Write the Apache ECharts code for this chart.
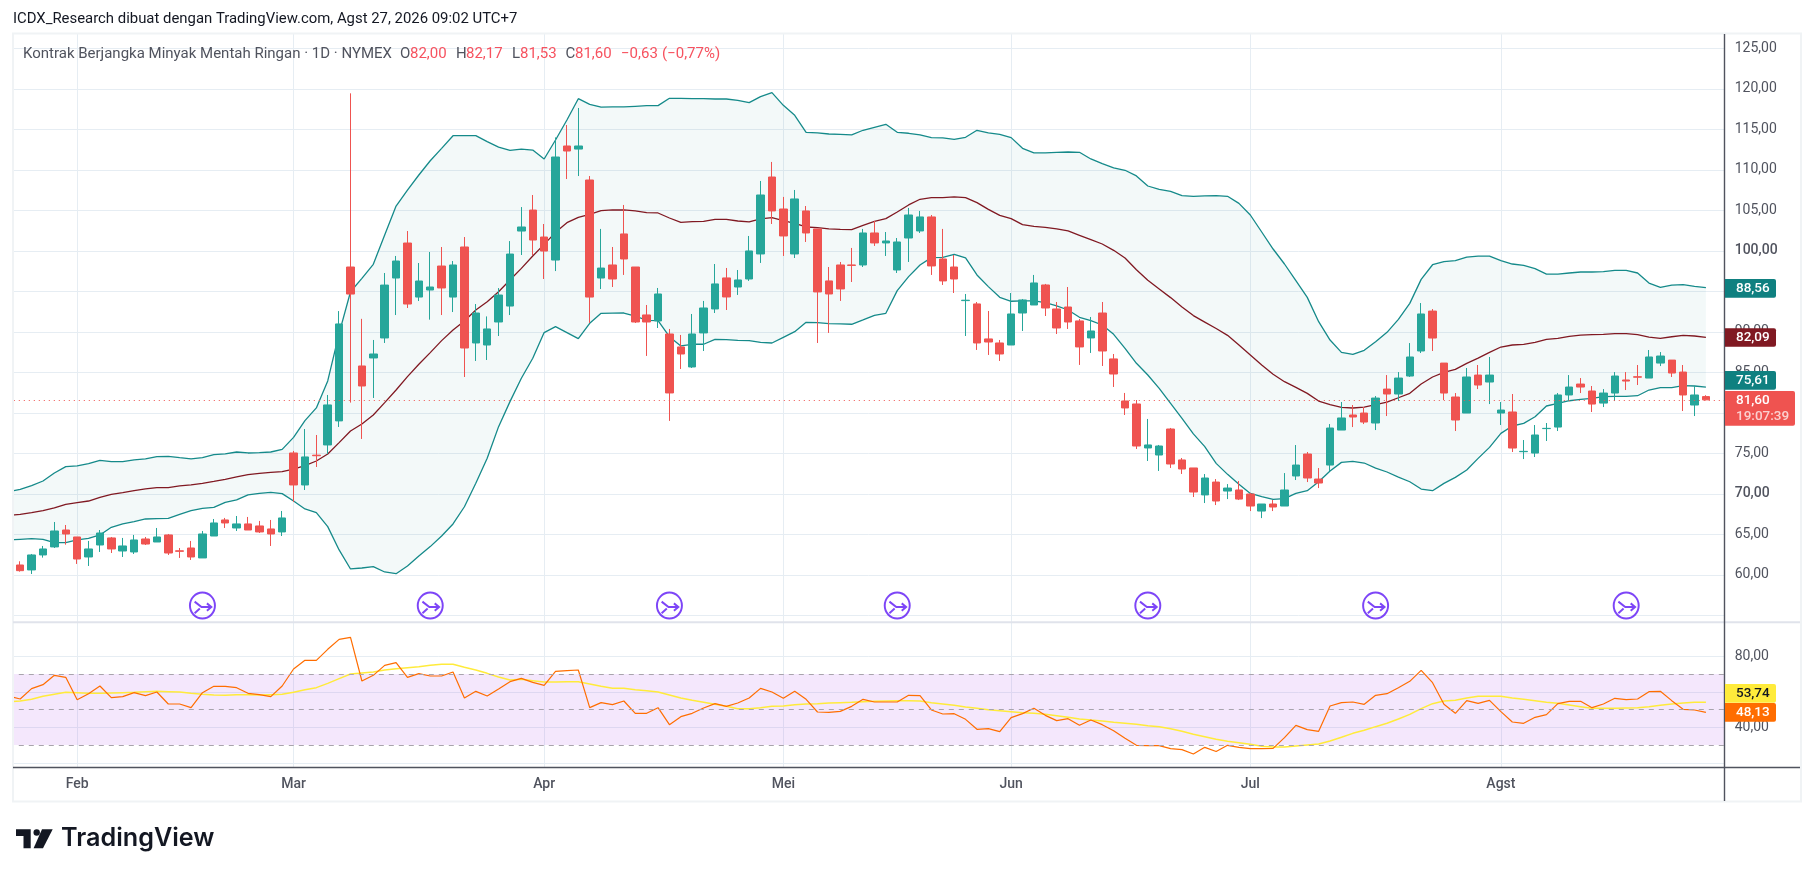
<!DOCTYPE html>
<html><head><meta charset="utf-8"><style>html,body{margin:0;padding:0;background:#fff}#c{width:1814px;height:877px}</style>
<script src="https://cdn.jsdelivr.net/npm/echarts@6/dist/echarts.min.js"></script></head>
<body><div id="c"></div><script>
const opens=[61.21,60.6,62.45,63.44,65.53,64.67,62.2,63.68,64.55,62.94,62.82,64.42,64.05,64.92,62.96,63.31,62.08,64.79,66.77,65.78,66.28,66.03,65.66,65.29,75.04,71.09,74.77,76.03,79,98,85.78,86.77,89.24,96.64,100.96,94.29,95.16,98.12,94.29,100.47,88.62,88.37,91.21,93.18,102.44,105.03,101.7,98.86,112.94,112.56,108.74,96.64,98.25,102.08,98,92.08,91.34,89.73,88.13,85.66,89.86,92.82,96.65,95.53,96.52,99.61,109.11,105.16,99.61,104.92,102.7,96.28,98.25,98.25,98.25,102.2,100.97,97.63,101.58,102.45,104.18,98.99,98,93.85,93.44,89.12,88.62,88.37,92.32,93.31,95.78,92.82,93.06,91.34,89.24,92.32,86.65,81.46,81.09,75.66,74.79,78,74.18,73.19,69.86,71.45,70.34,70.47,69.97,67.87,68.74,68.49,72.2,74.91,71.82,73.55,77.87,79.73,79.97,78.74,82.93,82.32,84.54,87.63,92.56,86.14,81.95,79.97,84.66,83.8,79.97,80.1,75.2,75.03,78.05,78.24,82.2,83.55,82.69,81.2,82.44,84.05,84.45,84.29,86.14,86.51,85.03,80.96,82];
const closes=[60.51,62.45,63.19,65.41,65.04,61.95,63.19,65.16,63.19,63.56,64.3,63.8,64.67,62.69,62.9,62.2,65.04,66.4,66.4,66.28,65.53,65.29,65.04,67.02,71.09,74.55,74.7,80.97,90.97,94.66,83.31,87.26,95.77,98.74,93.43,96.27,95.53,95.41,98.25,88,92.32,90.35,94.54,99.6,102.94,101.33,99.97,111.58,112.32,112.94,94.29,97.87,96.52,98.99,91.21,91.21,94.67,82.45,87.26,89.73,92.94,95.91,94.3,96.4,99.98,106.89,104.92,101.83,106.4,102.2,94.92,94.67,95.29,98.2,102.2,100.97,101.21,101.09,104.42,104.18,98.13,96.28,96.52,93.9,88.62,88.74,87.26,92.2,93.93,96.03,92.94,90.47,91.21,88.13,90.1,87.63,84.79,80.6,75.9,76.03,75.9,73.68,73.06,70.22,71.95,69.11,70.71,69.35,68.49,68.74,68.37,70.47,73.55,71.95,71.33,78.12,79.36,79.48,78.86,81.82,82.32,84.29,86.89,92.2,89.23,82.44,79.11,84.42,83.43,84.66,80.34,75.65,75.24,77.26,78.08,82.2,83.18,83.18,81.08,82.44,84.54,83.92,84.4,86.89,87.01,84.91,82.2,82.2,81.6];
const highs=[61.67,62.57,63.56,66.52,66.15,64.67,64.18,65.53,64.67,64.55,64.92,64.67,65.78,65.04,63.31,64.18,65.41,66.89,67.02,67.26,67.14,66.65,66.77,67.88,75.29,78,77.26,82.2,92.56,119.44,91.6,88.99,97.26,99.36,102.44,98.49,99.85,100.47,98.74,101.7,93.43,91.9,95.4,101.2,105.4,106.89,103.31,114,115.53,117.63,109.23,102.7,100.47,105.66,98,93.31,95.41,90.35,89.61,92.2,93.81,98.37,97.88,97.63,101.83,108.62,110.97,106.65,107.51,105.53,102.7,98,98.62,100.35,102.7,103.68,102.32,101.58,105.29,104.92,104.42,102.7,99.48,94.67,93.68,92.57,88.99,94.79,94.05,97.02,95.91,93.68,95.53,91.58,91.83,93.68,87.26,82.45,81.58,79.24,76.03,78.13,74.42,73.19,72.44,71.82,71.2,71.58,70.1,68.74,69.23,72.56,76.02,75.16,73.18,78.61,81.33,80.96,80.71,82.07,84.66,85.03,88.61,93.55,92.81,86.14,82.44,85.53,85.9,86.89,81.33,82.32,76.64,78.49,78.74,82.44,84.66,84.29,83.31,82.93,85.03,85.03,85.9,87.75,87.5,86.51,85.9,83.31,82.17];
const lows=[60.39,60.1,62.12,63.31,63.72,61.34,61.09,62.82,62.69,62.2,62.57,63.68,64.05,62.45,62.08,61.83,62.08,64.79,65.78,65.41,65.53,65.16,63.56,64.79,69,70.47,73.31,74.92,78.25,81.26,76.77,81.83,88.62,92.07,92.94,93.8,91.5,92.07,92.44,84.42,86.4,86.52,89.48,92.07,99.48,99.48,96.52,97.5,108.86,109.23,91.1,95.28,95.53,97.02,91.09,87.02,90.47,79,85.41,85.53,87.63,92.32,92.69,94.55,96.28,98.5,103.31,99.36,99.11,101.09,88.62,89.86,93.81,96.15,98,100.6,99.36,97.26,98.62,102.2,97.02,95.78,94.79,89.48,87.76,87.14,86.4,88.37,90.1,93.31,91.95,89.73,90.35,85.91,87.39,85.78,83.19,79.73,75.53,74.05,72.82,73.19,72.45,69.6,68.86,68.61,69.35,69.23,67.87,67,67.87,68.49,71.7,71.45,70.71,72.81,77.87,78.24,78.61,77.87,79.6,81.45,84.42,87.38,87.63,81.58,77.75,79.97,82.93,81.08,78.49,75.16,74.29,74.54,76.52,77.75,81.45,82.44,80.1,80.71,81.45,82.81,83.43,84.29,85.77,84.42,80.22,79.6,81.53];
const bbUpper=[70.27,70.56,71.01,71.58,72.57,73.35,73.44,73.72,74.13,73.97,73.97,74.18,74.3,74.59,74.63,74.46,74.3,74.46,74.83,74.92,75.16,75.04,75.08,75.16,75.49,76.97,79.03,80.6,83.93,89.8,94.95,96.6,98.33,101.95,105.53,107.5,109.36,111.12,112.65,114.21,114.21,114.21,113.47,112.81,112.4,112.56,112.44,111.33,113.68,116.15,118.78,118.08,117.75,117.76,117.76,117.84,117.92,117.92,118.83,118.83,118.79,118.79,118.74,118.74,118.58,118.29,119.03,119.53,117.96,116.73,114.63,114.55,114.42,114.38,114.3,114.88,115.25,115.62,114.63,114.51,114.3,113.97,113.93,113.76,114.01,114.88,114.55,114.38,113.97,112.65,112.08,112.08,112.16,112.2,112.16,111.34,110.76,110.23,109.94,109.24,108,107.59,107.34,106.81,106.73,106.77,106.81,106.73,105.86,104.42,102.32,100.22,98.37,96.31,94.25,91.25,88.98,87.46,87.21,87.71,88.78,89.93,91.54,93.51,96.47,98.28,98.66,98.78,99.23,99.35,99.35,98.78,98.37,98.2,97.79,97.13,97.13,97.26,97.38,97.38,97.42,97.59,97.59,97.26,96.02,95.49,95.77,95.82,95.61,95.45];
const bbBasis=[67.34,67.47,67.67,67.92,68.25,68.7,68.91,69.11,69.57,69.94,70.14,70.39,70.6,70.76,70.76,70.97,71.09,71.3,71.54,71.79,72.08,72.37,72.53,72.65,72.74,73.06,73.48,74.05,74.92,76.32,77.76,78.62,79.73,81.25,82.82,84.46,85.99,87.43,88.91,90.23,91.34,92.69,93.72,94.95,96.39,97.83,99.36,100.79,102.28,103.47,104.13,104.5,104.95,105.04,105.04,104.92,104.71,104.67,104.05,103.52,103.6,103.64,103.89,103.89,103.68,103.56,103.93,104.09,103.72,103.39,102.94,102.86,102.7,102.65,102.61,103.15,103.64,103.97,104.79,105.66,106.36,106.56,106.56,106.65,106.56,105.95,105.12,104.38,103.97,103.23,103.02,102.9,102.7,102.45,101.91,101.38,100.84,100.06,99.11,97.67,96.36,95.29,94.22,93.07,92,91.2,90.4,89.56,88.37,87.13,85.9,84.75,83.84,83.14,82.4,81.45,81,80.67,80.59,80.71,81,81.33,81.86,82.4,83.55,84.42,84.99,85.36,86.1,86.76,87.46,88.12,88.37,88.45,88.7,89.07,89.19,89.44,89.6,89.64,89.68,89.77,89.77,89.64,89.35,89.19,89.39,89.56,89.48,89.31];
const bbLower=[64.3,64.38,64.46,64.38,63.97,63.97,64.3,64.5,64.92,65.86,66.28,66.56,66.89,66.93,66.97,67.47,67.92,68.21,68.33,68.95,69.24,69.86,70.06,70.18,70.02,69.11,68.13,67.67,65.95,63.07,60.72,60.84,61.01,60.35,60.14,61.09,62.32,63.48,64.79,66.28,68.4,71.3,74.38,78.29,81.38,84.26,86.73,89.9,90.64,89.9,89.16,91.05,92.28,92.3,92.32,91.95,91.42,91.38,89.4,88.25,88.46,88.46,89.07,89.03,88.95,88.91,88.7,88.62,89.32,90.02,91.17,91.13,91.01,90.97,90.93,91.46,92.04,92.28,95.08,96.81,98.25,99.16,99.2,99.57,99.12,97.02,95.58,94.26,93.77,93.81,93.81,93.6,93.19,92.69,91.79,91.38,90.84,89.69,87.96,86.11,84.67,83.02,81.17,79.32,77.39,75.82,73.76,72.4,71.17,70.05,69.64,69.31,69.4,70.05,70.38,71.49,72.81,73.88,74,73.8,73.18,72.69,72.07,71.49,70.59,70.38,71.29,72.03,72.94,74.37,75.73,77.46,78.37,78.7,79.52,80.84,81.17,81.49,81.66,81.78,81.99,82.03,82.03,82.11,82.81,83.1,83.1,83.35,83.31,83.18];
const rsiLine=[57.6,55.94,61.77,64.02,69.28,68.15,55.57,58.95,63.27,56.7,57.26,59.51,57.82,59.89,53.13,53.13,51.06,59.51,63.08,63.08,62.33,59.14,58.39,57.26,63.27,72.85,77.73,77.73,83.93,89.56,90.69,66.08,69.28,74.91,76.41,68.15,70.22,68.9,68.9,71.16,56.51,60.26,57.63,61.58,65.71,67.59,65.33,63.65,71.53,71.91,72.28,51.06,53.88,52.75,54.82,47.87,47.87,51.06,41.48,46,47.87,50.88,53.32,51.81,53.69,56.51,61.95,59.89,56.32,60.26,55.76,48.62,48.43,48.99,51.81,55.76,54.26,54.26,54.26,58.01,57.82,49.75,47.49,47.68,44.49,38.86,39.23,37.54,45.43,47.68,50.69,46.74,43.74,44.87,41.11,44.11,41.48,38.1,33.79,29.84,29.65,29.65,27.96,27.4,24.96,28.72,26.4,29.84,28.72,27.96,27.96,28.15,34.16,41.11,38.67,37.73,52,53.88,54.26,52.94,58.01,58.95,62.33,65.9,72.1,65.15,52.94,47.87,55.01,53.5,55.19,48.81,43,42.24,45.62,47.12,53.32,54.63,54.63,51.06,53.13,56.32,55.57,55.94,60.08,60.26,55.01,50.12,49.75,48.43];
const rsiMa=[54.44,54.82,55.76,57.45,58.58,59.7,59.51,59.14,59.14,59.33,59.51,59.7,60.08,60.26,60.08,59.89,59.14,58.58,58.2,58.01,58.39,58.39,58.2,58.39,58.58,59.7,61.2,62.33,64.77,67.4,70.03,70.59,71.16,72.28,73.03,73.6,74.16,74.91,75.48,75.48,73.79,72.28,70.4,68.34,66.65,67.03,66.27,65.52,65.52,65.71,65.71,64.39,63.08,62,61.95,61.2,60.64,59.89,58.2,56.51,55.19,54.07,52.94,51.81,50.5,50.5,51.06,51.81,52,52.75,53.13,53.32,53.69,53.88,54.07,54.44,54.63,54.82,55.01,55.01,54.82,53.88,53.13,52.38,51.44,50.69,49.94,49.37,48.81,48.24,47.87,47.31,46.56,45.62,44.68,44.11,43.55,42.8,42.24,41.67,40.92,40.36,39.23,37.73,36.04,34.72,33.3,32.09,31.34,30.4,29.28,28.9,28.9,29.47,30.03,30.6,32.28,34.35,36.6,38.29,40.36,42.24,44.68,47.31,50.5,53.32,54.82,55.19,56.51,57.45,57.45,57.45,56.51,55.76,55.01,54.07,53.5,52.57,51.63,50.69,50.69,50.69,50.88,51.06,51.63,52.38,53.13,53.69,54.07,54.07];
const monthBars=[5,24,46,67,87,108,130];
const monthNames=["Feb","Mar","Apr","Mei","Jun","Jul","Agst"];
const rollBars=[16,36,57,77,99,119,141];
const rollLevel=56.2;
const lastPrice=81.6;
const rsiGuides=[70,50,30];
const priceTicksBold=[100,70];
const rsiTickLabels=[80,40];

const GREEN='#26a69a',RED='#ef5350',GRAY='#50535e',GRID='#e6edf3',LINE='#158a8a',MAROON='#801922';
const FONT='Roboto, sans-serif';
const cats=[];for(let i=-1;i<=150;i++)cats.push(String(i));
const pad=a=>[...a,...new Array(cats.length-a.length).fill('-')];
const candle=cats.map((c,k)=>{const i=k-1;return(i>=0&&i<opens.length)?[opens[i],closes[i],lows[i],highs[i]]:'-'});
const L=8.81,R=1814-1728.7;
const rollPath='path://M13 1a12 12 0 1 0 0 24a12 12 0 1 0 0-24zM5.5 9.3L12.1 14.3L21.5 14.3M17.3 11L21.5 14.3L17.3 17.7M5.5 20L10.5 15.7';
const xBase={type:'category',data:cats,boundaryGap:false,axisLine:{show:false},axisTick:{show:false},axisLabel:{show:false},splitLine:{show:false},axisPointer:{show:false}};
const thin=(name,data,color,x,y,w,extra)=>Object.assign({type:'line',name,data:pad(data),xAxisIndex:x,yAxisIndex:y,showSymbol:false,symbol:'none',smooth:false,lineStyle:{color,width:w},emphasis:{disabled:true},silent:true},extra||{});

function legendTexts(){
 const parts=[[23,'Kontrak Berjangka Minyak Mentah Ringan · 1D · NYMEX',GRAY],[400,'O',GRAY],[410,'82,00','#f7525f'],[456,'H',GRAY],[466,'82,17','#f7525f'],[512,'L',GRAY],[520,'81,53','#f7525f'],[565.5,'C',GRAY],[575,'81,60','#f7525f'],[621,'−0,63','#f7525f'],[662,'(−0,77%)','#f7525f']];
 return parts.map(p=>({type:'text',z:70,x:p[0],y:53.8,style:{text:p[1],fill:p[2],font:'15px '+FONT,textVerticalAlign:'middle'}}));
}
function tag(x0,x1,y0,y1,col,lines,tc){
 const out=[{type:'rect',z:80,shape:{x:x0,y:y0,width:x1-x0,height:y1-y0,r:[0,2,2,0]},style:{fill:col}}];
 lines.forEach((t,i)=>out.push({type:'text',z:81,x:1736,y:y0+9.5+i*16.4,style:{text:t[0],fill:t[1]||tc,font:'500 13.5px '+FONT,textVerticalAlign:'middle'}}));
 return out;
}
const graphics=[
 {type:'rect',z:10,shape:{x:0,y:25,width:13,height:790},style:{fill:'#fff'}},
 {type:'rect',z:10,shape:{x:1725,y:34,width:75,height:767},style:{fill:'#fff'}},
 {type:'rect',z:11,shape:{x:13,y:33.5,width:1788,height:768},style:{fill:'none',stroke:'#f0f3f5',lineWidth:2}},
 {type:'line',z:12,shape:{x1:13,y1:622.3,x2:1800,y2:622.3},style:{stroke:'#e0e3eb',lineWidth:2}},
 {type:'line',z:12,shape:{x1:13,y1:767.5,x2:1800,y2:767.5},style:{stroke:GRAY,lineWidth:1.4}},
 {type:'line',z:13,shape:{x1:1724.5,y1:34,x2:1724.5,y2:801},style:{stroke:GRAY,lineWidth:1.4}},
 {type:'text',z:70,x:13,y:19.5,style:{text:'ICDX_Research dibuat dengan TradingView.com, Agst 27, 2026 09:02 UTC+7',fill:'#131722',font:'14.9px '+FONT,textVerticalAlign:'middle'}},
 ...legendTexts(),
 ...tag(1725,1776,279,297.7,'#0f8080',[['88,56']],'#fff'),
 ...tag(1725,1776,328.3,346.7,MAROON,[['82,09']],'#fff'),
 ...tag(1725,1776,371,389.7,'#0f8080',[['75,61']],'#fff'),
 ...tag(1725,1795,391,425.7,RED,[['81,60'],['19:07:39','#fbd0cf']],'#fff'),
 ...tag(1725,1776,684,702.7,'#ffeb3b',[['53,74']],'#131722'),
 ...tag(1725,1776,703,721.7,'#ff6d00',[['48,13']],'#fff'),
 {type:'polygon',z:70,shape:{points:[[16,829.3],[30.7,829.3],[30.7,848.3],[23.5,848.3],[23.5,836],[16,836]]},style:{fill:'#131722'}},
 {type:'circle',z:70,shape:{cx:36.7,cy:832.5,r:3.2},style:{fill:'#131722'}},
 {type:'polygon',z:70,shape:{points:[[42,829.3],[52.7,829.3],[43,848.3],[33.6,848.3]]},style:{fill:'#131722'}},
 {type:'text',z:70,x:61,y:838.5,style:{text:'TradingView',fill:'#131722',font:'600 25.2px Inter, sans-serif',textVerticalAlign:'middle'}}
];
const labelFmt=v=>v.toFixed(2).replace('.',',');
const option={
 animation:false,backgroundColor:'#fff',
 grid:[{left:L,right:R,top:48.3,height:567},{left:L,right:R,top:656.3,height:106.5},{left:L,right:R,top:33.5,height:734}],
 xAxis:[
  Object.assign({},xBase,{gridIndex:0}),Object.assign({},xBase,{gridIndex:1}),
  Object.assign({},xBase,{gridIndex:2,
   splitLine:{show:true,lineStyle:{color:GRID,width:1},interval:(i)=>monthBars.includes(i-1)},
   axisLabel:{show:true,margin:10,interval:(i)=>monthBars.includes(i-1),formatter:(v,i)=>monthNames[monthBars.indexOf(i-1)]||'',color:GRAY,fontFamily:FONT,fontSize:14,fontWeight:500,hideOverlap:false}})
 ],
 yAxis:[
  {type:'value',gridIndex:0,position:'right',min:55,max:125,interval:5,axisLine:{show:false},axisTick:{show:false},axisLabel:{show:false},splitLine:{lineStyle:{color:GRID,width:1}}},
  {type:'value',gridIndex:1,position:'right',min:20,max:80,interval:20,axisLine:{show:false},axisTick:{show:false},axisLabel:{show:false},splitLine:{lineStyle:{color:GRID,width:1}}},
  {type:'value',gridIndex:2,min:0,max:1,show:false},
  {type:'value',gridIndex:0,position:'right',z:60,min:55,max:125,interval:5,axisLine:{show:false},axisTick:{show:false},splitLine:{show:false},
   axisLabel:{margin:6,fontFamily:FONT,fontSize:14,color:GRAY,
    formatter:v=>v===55?'':(priceTicksBold.includes(v)?'{b|'+labelFmt(v)+'}':labelFmt(v)),rich:{b:{fontFamily:FONT,fontSize:14,fontWeight:500,color:GRAY}}}},
  {type:'value',gridIndex:1,position:'right',z:60,min:20,max:80,interval:20,axisLine:{show:false},axisTick:{show:false},splitLine:{show:false},
   axisLabel:{margin:6,fontFamily:FONT,fontSize:14,color:GRAY,formatter:v=>rsiTickLabels.includes(v)?labelFmt(v):''}}
 ],
 series:[
  {type:'line',name:'base',data:pad(bbLower),stack:'bb',xAxisIndex:0,yAxisIndex:0,showSymbol:false,symbol:'none',lineStyle:{width:0},silent:true,z:1},
  {type:'line',name:'band',data:pad(bbUpper.map((u,i)=>+(u-bbLower[i]).toFixed(2))),stack:'bb',xAxisIndex:0,yAxisIndex:0,showSymbol:false,symbol:'none',lineStyle:{width:0},areaStyle:{color:'#1b8a8a',opacity:0.05},silent:true,z:1},
  thin('upper',bbUpper,LINE,0,0,1.3),
  thin('basis',bbBasis,MAROON,0,0,1.3),
  thin('lower',bbLower,LINE,0,0,1.3),
  {type:'candlestick',name:'price',data:candle,xAxisIndex:0,yAxisIndex:0,barWidth:8,silent:true,z:3,
   itemStyle:{color:GREEN,color0:RED,borderColor:GREEN,borderColor0:RED,borderWidth:1},
   markLine:{silent:true,symbol:'none',label:{show:false},animation:false,lineStyle:{color:RED,type:[1,4],width:1},data:[{yAxis:lastPrice}]}},
  {type:'scatter',name:'roll',xAxisIndex:0,yAxisIndex:0,z:4,silent:true,symbol:rollPath,symbolSize:[25,26],
   itemStyle:{color:'rgba(0,0,0,0)',borderColor:'#5d17f5',borderWidth:2},
   data:rollBars.map(b=>[String(b),rollLevel])},
  thin('rsi',rsiLine,'#ff6d00',1,1,1.2,{clip:false,z:4}),
  thin('rsima',rsiMa,'#ffeb3b',1,1,1.5,{clip:false,z:3,
   markArea:{silent:true,z:1,itemStyle:{color:'rgba(163,55,230,0.12)'},data:[[{yAxis:Math.max(...rsiGuides)},{yAxis:Math.min(...rsiGuides)}]]},
   markLine:{silent:true,symbol:'none',label:{show:false},lineStyle:{color:'#a8a4ac',type:[5,5],width:1},data:rsiGuides.map(v=>({yAxis:v}))}})
 ],
 graphic:graphics
};
const chart=echarts.init(document.getElementById('c'),null,{renderer:'canvas',width:1814,height:877});
chart.setOption(option);
</script></body></html>
